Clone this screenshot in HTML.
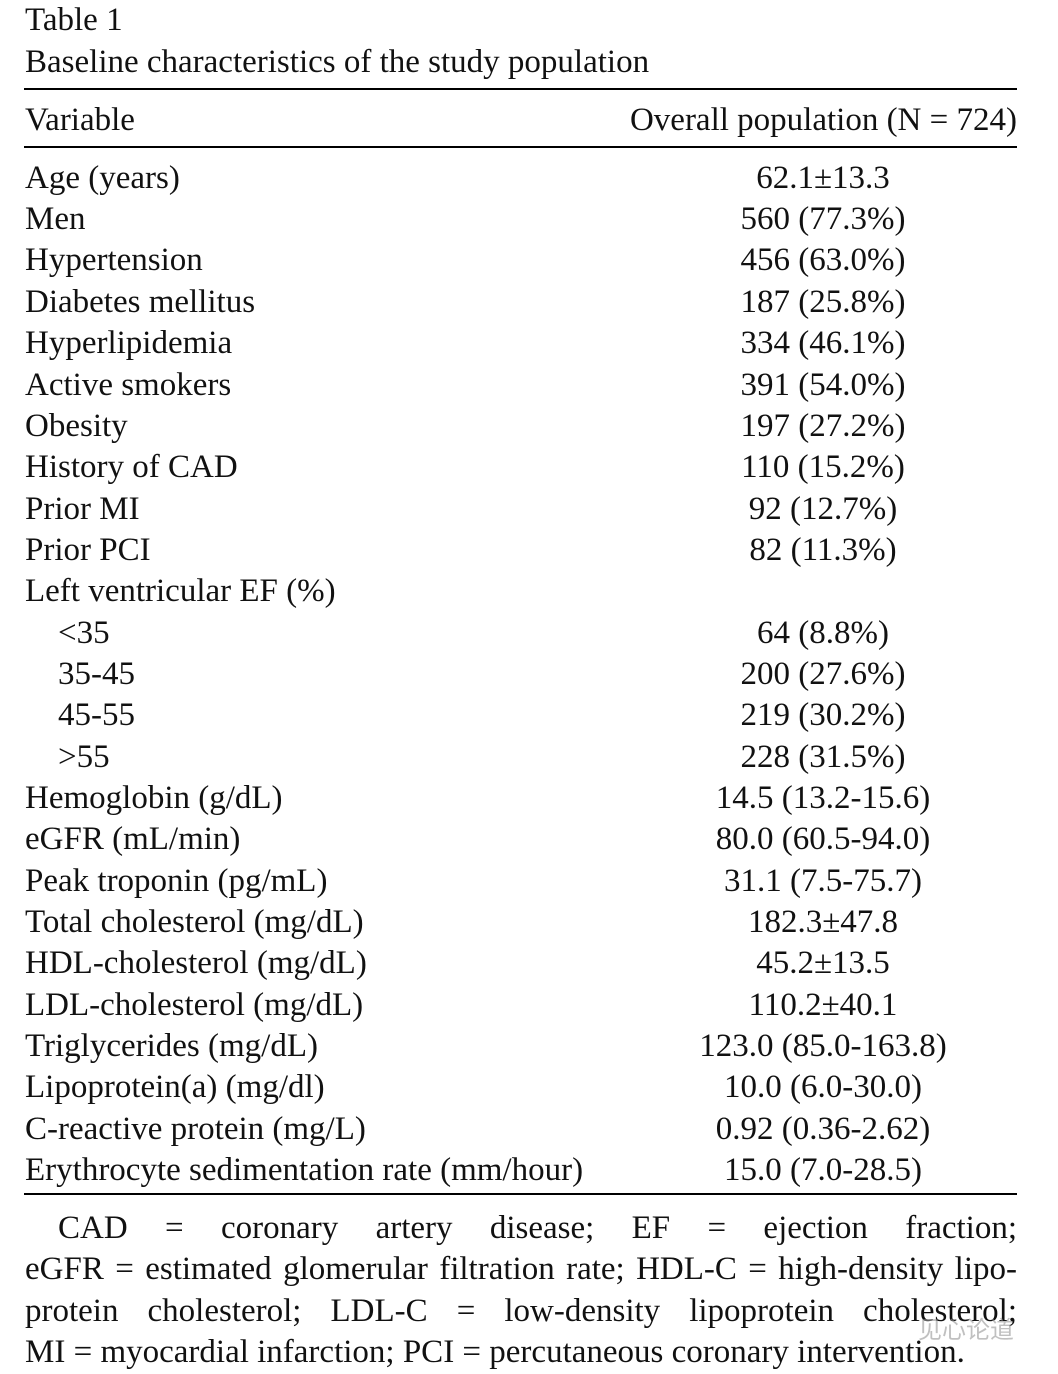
<!DOCTYPE html>
<html><head><meta charset="utf-8"><style>
body{margin:0;width:1058px;height:1374px;background:#fff;position:relative;overflow:hidden;font-family:"Liberation Serif","Noto Serif CJK SC",serif;color:#111;font-size:33px;}
.t{position:absolute;line-height:30px;white-space:nowrap;}
.v{position:absolute;line-height:30px;white-space:nowrap;width:400px;left:623px;text-align:center;}
.hr{position:absolute;left:24px;width:993px;background:#000;}
.j{position:absolute;left:25px;width:992px;line-height:30px;white-space:nowrap;text-align:justify;text-align-last:justify;}
</style></head><body>
<div class="t" style="left:25px;top:5px">Table 1</div>
<div class="t" style="left:25px;top:47px">Baseline characteristics of the study population</div>
<div class="hr" style="top:88px;height:2px"></div>
<div class="t" style="left:25px;top:105px">Variable</div>
<div class="t" style="right:41px;top:105px">Overall population (N = 724)</div>
<div class="hr" style="top:146px;height:2px"></div>

<div class="t" style="left:25px;top:163px">Age (years)</div><div class="v" style="top:163px">62.1±13.3</div>
<div class="t" style="left:25px;top:204px">Men</div><div class="v" style="top:204px">560 (77.3%)</div>
<div class="t" style="left:25px;top:245px">Hypertension</div><div class="v" style="top:245px">456 (63.0%)</div>
<div class="t" style="left:25px;top:287px">Diabetes mellitus</div><div class="v" style="top:287px">187 (25.8%)</div>
<div class="t" style="left:25px;top:328px">Hyperlipidemia</div><div class="v" style="top:328px">334 (46.1%)</div>
<div class="t" style="left:25px;top:370px">Active smokers</div><div class="v" style="top:370px">391 (54.0%)</div>
<div class="t" style="left:25px;top:411px">Obesity</div><div class="v" style="top:411px">197 (27.2%)</div>
<div class="t" style="left:25px;top:452px">History of CAD</div><div class="v" style="top:452px">110 (15.2%)</div>
<div class="t" style="left:25px;top:494px">Prior MI</div><div class="v" style="top:494px">92 (12.7%)</div>
<div class="t" style="left:25px;top:535px">Prior PCI</div><div class="v" style="top:535px">82 (11.3%)</div>
<div class="t" style="left:25px;top:576px">Left ventricular EF (%)</div>
<div class="t" style="left:58px;top:618px">&lt;35</div><div class="v" style="top:618px">64 (8.8%)</div>
<div class="t" style="left:58px;top:659px">35-45</div><div class="v" style="top:659px">200 (27.6%)</div>
<div class="t" style="left:58px;top:700px">45-55</div><div class="v" style="top:700px">219 (30.2%)</div>
<div class="t" style="left:58px;top:742px">&gt;55</div><div class="v" style="top:742px">228 (31.5%)</div>
<div class="t" style="left:25px;top:783px">Hemoglobin (g/dL)</div><div class="v" style="top:783px">14.5 (13.2-15.6)</div>
<div class="t" style="left:25px;top:824px">eGFR (mL/min)</div><div class="v" style="top:824px">80.0 (60.5-94.0)</div>
<div class="t" style="left:25px;top:866px">Peak troponin (pg/mL)</div><div class="v" style="top:866px">31.1 (7.5-75.7)</div>
<div class="t" style="left:25px;top:907px">Total cholesterol (mg/dL)</div><div class="v" style="top:907px">182.3±47.8</div>
<div class="t" style="left:25px;top:948px">HDL-cholesterol (mg/dL)</div><div class="v" style="top:948px">45.2±13.5</div>
<div class="t" style="left:25px;top:990px">LDL-cholesterol (mg/dL)</div><div class="v" style="top:990px">110.2±40.1</div>
<div class="t" style="left:25px;top:1031px">Triglycerides (mg/dL)</div><div class="v" style="top:1031px">123.0 (85.0-163.8)</div>
<div class="t" style="left:25px;top:1072px">Lipoprotein(a) (mg/dl)</div><div class="v" style="top:1072px">10.0 (6.0-30.0)</div>
<div class="t" style="left:25px;top:1114px">C-reactive protein (mg/L)</div><div class="v" style="top:1114px">0.92 (0.36-2.62)</div>
<div class="t" style="left:25px;top:1155px">Erythrocyte sedimentation rate (mm/hour)</div><div class="v" style="top:1155px">15.0 (7.0-28.5)</div>
<div class="hr" style="top:1193px;height:2px"></div>

<div class="j" style="top:1213px;left:58px;width:959px">CAD = coronary artery disease; EF = ejection fraction;</div>
<div class="j" style="top:1254px">eGFR = estimated glomerular filtration rate; HDL-C = high-density lipo-</div>
<div class="j" style="top:1296px">protein cholesterol; LDL-C = low-density lipoprotein cholesterol;</div>
<div class="t" style="left:25px;top:1337px">MI = myocardial infarction; PCI = percutaneous coronary intervention.</div>
<div class="t" style="left:918px;top:1313px;font-size:24px;color:rgba(150,150,150,0.6);font-family:'Noto Sans CJK SC',sans-serif">见心论道</div>
</body></html>
